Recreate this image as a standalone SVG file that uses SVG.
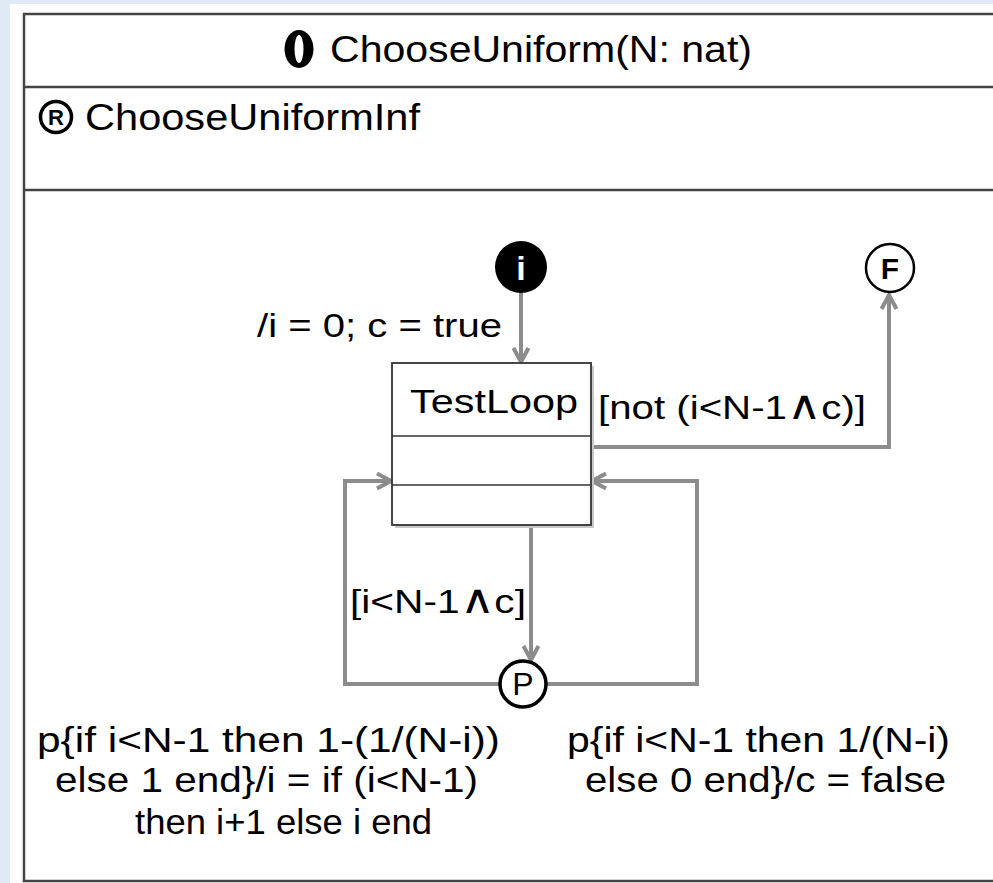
<svg xmlns="http://www.w3.org/2000/svg" width="993" height="883" viewBox="0 0 993 883">
<style>
.t{font-family:"Liberation Sans","Open Sans",sans-serif;fill:#000;}
.frame{fill:none;stroke:#444;stroke-width:2.5;}
.conn{fill:none;stroke:#8c8c8c;stroke-width:4;}
.and{font-size:40px;font-family:"DejaVu Sans",sans-serif;font-weight:200;}
</style>
<defs>
<marker id="ah" viewBox="0 0 20 20" refX="17" refY="10" markerWidth="20" markerHeight="20" markerUnits="userSpaceOnUse" orient="auto">
<path d="M3,2.5 L17,10 L3,17.5" fill="none" stroke="#8c8c8c" stroke-width="4"/>
</marker>
</defs>
<rect x="0" y="0" width="993" height="883" fill="#dfeaf6"/>
<rect x="10" y="4" width="983" height="879" fill="#fff"/>
<g id="frame">
<rect class="frame" x="24" y="14" width="990" height="867"/>
<line class="frame" x1="24" y1="87" x2="993" y2="87"/>
<line class="frame" x1="24" y1="190" x2="993" y2="190"/>
<g id="op-icon">
<ellipse cx="299" cy="49" rx="14.5" ry="19" fill="#000"/>
<ellipse cx="299" cy="49" rx="4.5" ry="14" fill="#fff"/>
</g>
<text class="t" x="330" y="62" font-size="36" textLength="422" lengthAdjust="spacingAndGlyphs">ChooseUniform(N: nat)</text>
<g id="ref-icon">
<circle cx="56" cy="117" r="15.5" fill="#fff" stroke="#000" stroke-width="3.5"/>
<text class="t" x="56" y="125" font-size="22" font-weight="bold" text-anchor="middle">R</text>
</g>
<text class="t" x="85" y="130" font-size="36" textLength="335" lengthAdjust="spacingAndGlyphs">ChooseUniformInf</text>
</g>
<g id="connectors">
<path class="conn" d="M521,293 L521,362" marker-end="url(#ah)"/>
<path class="conn" d="M591,447 L889,447 L889,295" marker-end="url(#ah)"/>
<path class="conn" d="M531,525 L531,660" marker-end="url(#ah)"/>
<path class="conn" d="M500,684 L345,684 L345,481 L391,481" marker-end="url(#ah)"/>
<path class="conn" d="M546,684 L697,684 L697,481 L592,481" marker-end="url(#ah)"/>
</g>
<g id="initial">
<circle cx="521" cy="267" r="26" fill="#000"/>
<text class="t" x="521" y="280" font-size="34" font-weight="bold" text-anchor="middle" style="fill:#fff">i</text>
</g>
<g id="final">
<circle cx="890" cy="268" r="24" fill="#fff" stroke="#000" stroke-width="2.5"/>
<text class="t" x="890" y="279" font-size="30" font-weight="bold" text-anchor="middle">F</text>
</g>
<g id="testloop">
<rect x="395" y="366" width="199" height="162" fill="#c8c8c8"/>
<rect x="392" y="363" width="199" height="162" fill="#fff" stroke="#333" stroke-width="1.8"/>
<line x1="392" y1="436" x2="591" y2="436" stroke="#333" stroke-width="1.5"/>
<line x1="392" y1="485" x2="591" y2="485" stroke="#333" stroke-width="1.5"/>
<text class="t" x="410" y="413" font-size="34" textLength="168" lengthAdjust="spacingAndGlyphs">TestLoop</text>
</g>
<g id="choice">
<circle cx="523" cy="684" r="23" fill="#fff" stroke="#000" stroke-width="3.5"/>
<text class="t" x="523" y="695" font-size="32" text-anchor="middle">P</text>
</g>
<g id="labels">
<text class="t" x="257" y="337" font-size="34" textLength="245" lengthAdjust="spacingAndGlyphs">/i = 0; c = true</text>
<text class="t" x="598" y="419" font-size="34" textLength="268" lengthAdjust="spacingAndGlyphs">[not (i&lt;N-1<tspan class="and">∧</tspan>c)]</text>
<text class="t" x="350" y="613" font-size="34" textLength="176" lengthAdjust="spacingAndGlyphs">[i&lt;N-1<tspan class="and">∧</tspan>c]</text>
<text class="t" x="37" y="752" font-size="35" textLength="463" lengthAdjust="spacingAndGlyphs">p{if i&lt;N-1 then 1-(1/(N-i))</text>
<text class="t" x="55" y="792" font-size="35" textLength="423" lengthAdjust="spacingAndGlyphs">else 1 end}/i = if (i&lt;N-1)</text>
<text class="t" x="135" y="834" font-size="35" textLength="297" lengthAdjust="spacingAndGlyphs">then i+1 else i end</text>
<text class="t" x="567" y="752" font-size="35" textLength="383" lengthAdjust="spacingAndGlyphs">p{if i&lt;N-1 then 1/(N-i)</text>
<text class="t" x="585" y="792" font-size="35" textLength="361" lengthAdjust="spacingAndGlyphs">else 0 end}/c = false</text>
</g>
</svg>
